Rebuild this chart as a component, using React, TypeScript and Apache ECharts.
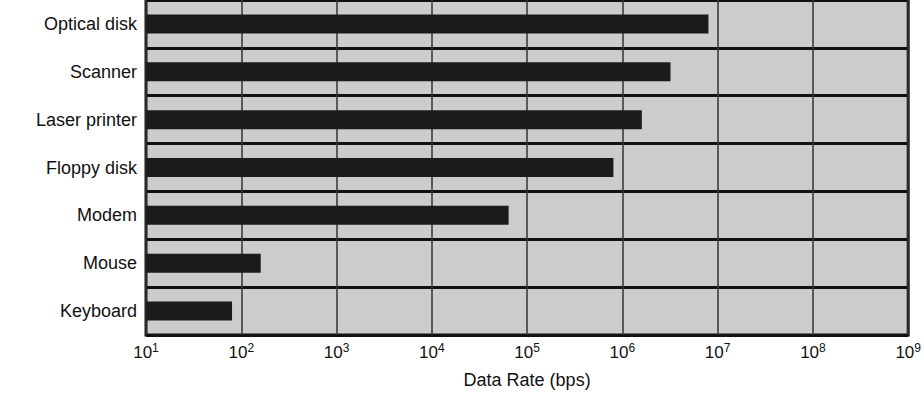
import React, { useEffect, useRef } from "react";
import * as echarts from "echarts";

const categories = ["Keyboard", "Mouse", "Modem", "Floppy disk", "Laser printer", "Scanner", "Optical disk"];
const dataRates = [80, 160, 64000, 805000, 1600000, 3200000, 8000000];
const axisMin = 10;
const axisMax = 1e9;
const axisTitle = "Data Rate (bps)";

const FONT = "'Liberation Sans', Arial, sans-serif";

export default function App() {
  const ref = useRef<HTMLDivElement>(null);
  useEffect(() => {
    if (!ref.current) return;
    const chart = echarts.init(ref.current, null, { renderer: "svg" });
    chart.setOption({
      animation: false,
      backgroundColor: "#ffffff",
      textStyle: { fontFamily: FONT },
      grid: {
        left: 146,
        right: 11,
        top: -1,
        bottom: 60,
        show: true,
        backgroundColor: "#cccccc",
        borderColor: "#111111",
        borderWidth: 3,
      },
      xAxis: {
        type: "log",
        logBase: 10,
        min: axisMin,
        max: axisMax,
        interval: 1,
        name: axisTitle,
        nameLocation: "middle",
        nameGap: 36,
        nameTextStyle: { fontSize: 18, color: "#111111", fontFamily: FONT },
        axisLine: { show: false },
        axisTick: { show: false },
        splitLine: { show: true, lineStyle: { color: "#333333", width: 1.5 } },
        axisLabel: {
          margin: 7,
          formatter: (v: number) => {
            const e = Math.round(Math.log10(v));
            return "{b|10}{s|" + e + "}";
          },
          rich: {
            b: { fontSize: 17, lineHeight: 19, color: "#111111", fontFamily: FONT, verticalAlign: "bottom" },
            s: { fontSize: 12, lineHeight: 13, color: "#111111", fontFamily: FONT, verticalAlign: "top" },
          },
        },
      },
      yAxis: {
        type: "category",
        data: categories,
        axisLine: { show: false },
        axisTick: { show: false },
        axisLabel: { fontSize: 18, color: "#111111", margin: 9, fontFamily: FONT },
        splitLine: { show: true, lineStyle: { color: "#111111", width: 3 } },
      },
      series: [
        {
          type: "bar",
          data: dataRates,
          barWidth: 19,
          itemStyle: { color: "#1b1b1b" },
          clip: true,
        },
      ],
    });
    return () => chart.dispose();
  }, []);
  return (
    <div style={{ position: "fixed", left: 0, top: 0, width: 924, height: 395, background: "#ffffff" }}>
      <div ref={ref} style={{ width: 924, height: 395 }} />
    </div>
  );
}
